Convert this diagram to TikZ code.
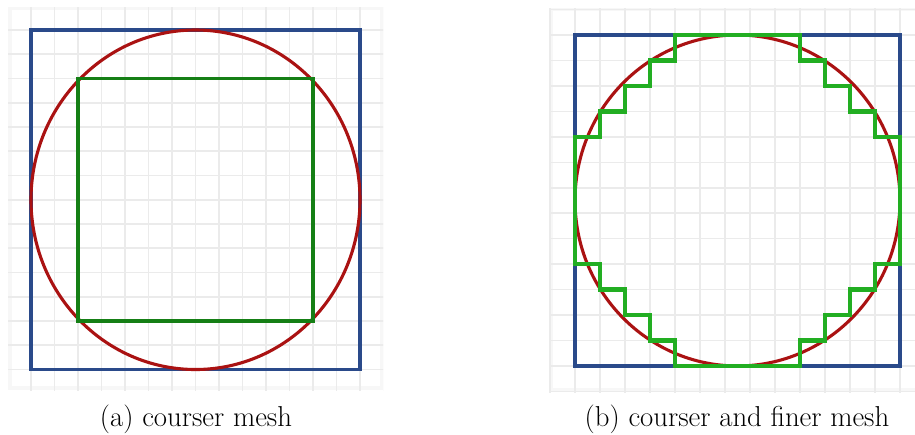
\documentclass[tikz,border=0pt]{standalone}
\begin{document}
\begin{tikzpicture}[x=1pt,y=-1pt,
  gridline/.style={draw=black!8,line width=1.6pt},
  bluebox/.style={draw=boxblue,line width=3.1pt},
  redcirc/.style={draw=circred,line width=3.1pt},
  greenA/.style={draw=greendark,line width=3.3pt,line join=miter},
  greenB/.style={draw=greenlight,line width=4.4pt,line join=miter},
  captionlabel/.style={font=\fontsize{28.8}{32}\selectfont,inner sep=0pt}]
\definecolor{boxblue}{HTML}{2A4A8A}
\definecolor{circred}{HTML}{AA1212}
\definecolor{greendark}{HTML}{157F15}
\definecolor{greenlight}{HTML}{22AE22}
\useasboundingbox (0,0) rectangle (915,434);
\fill[white] (0,0) rectangle (915,434);
% ---------- left panel ----------
\begin{scope}
  \clip (8,7) rectangle (383,390);
  \fill[white!97!black] (8,7) rectangle (383,390);
  \fill[white] (12,10) rectangle (380,386);
  \foreach \i in {-1,...,15} \draw[gridline] ({31+23.5*\i},0) -- ({31+23.5*\i},400);
  \foreach \j in {-1,...,15} \draw[gridline] (0,{30+24.25*\j}) -- (400,{30+24.25*\j});
\end{scope}
\begin{scope}[shift={(31,30)},x=23.5pt,y=-24.25pt]
  \draw[bluebox] (0,0) rectangle (14,14);
  \draw[redcirc] (7,7) ellipse [x radius=7,y radius=7];
  \draw[greenA] (2,2) rectangle (12,12);
\end{scope}
% ---------- right panel ----------
\begin{scope}
  \clip (549,8) rectangle (915,392);
  \fill[white!97!black] (549,8) rectangle (915,392);
  \fill[white] (553,11) rectangle (915,388);
  \foreach \i in {-1,...,14} \draw[gridline] ({575+25*\i},0) -- ({575+25*\i},400);
  \foreach \j in {-1,...,14} \draw[gridline] (540,{35+25.46*\j}) -- (920,{35+25.46*\j});
\end{scope}
\begin{scope}[shift={(575,35)},x=25pt,y=-25.46pt]
  \draw[bluebox] (0,0) rectangle (13,13);
  \draw[redcirc] (6.5,6.5) ellipse [x radius=6.5,y radius=6.5];
  \draw[greenB] (4,0) -- (9,0) -- (9,1) -- (10,1) -- (10,2) -- (11,2) -- (11,3) -- (12,3) -- (12,4) -- (13,4)
    -- (13,9) -- (12,9) -- (12,10) -- (11,10) -- (11,11) -- (10,11) -- (10,12) -- (9,12) -- (9,13)
    -- (4,13) -- (4,12) -- (3,12) -- (3,11) -- (2,11) -- (2,10) -- (1,10) -- (1,9) -- (0,9)
    -- (0,4) -- (1,4) -- (1,3) -- (2,3) -- (2,2) -- (3,2) -- (3,1) -- (4,1) -- cycle;
\end{scope}
% ---------- captions ----------
\node[captionlabel] (capa) at (196,419) {(a) courser mesh};
\node[captionlabel] (capb) at (737,419) {(b) courser and finer mesh};
\end{tikzpicture}
\end{document}
